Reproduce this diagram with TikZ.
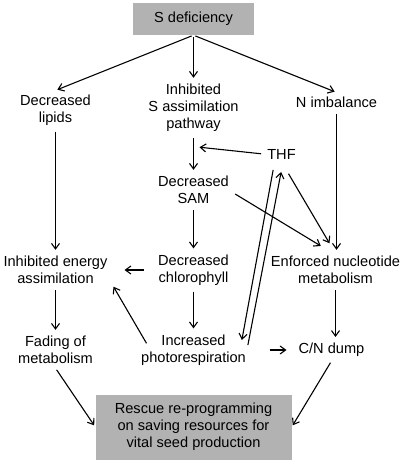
\documentclass[tikz,border=0pt]{standalone}
\usepackage{fontspec}
\setmainfont{Liberation Sans}
\usetikzlibrary{arrows.meta,calc}
\tikzstyle{basic} = [rectangle, align=center, inner sep=4pt, font=\fontsize{14.6}{17.2}\selectfont]
\tikzstyle{greybox} = [rectangle, align=center, fill=black!30, font=\fontsize{14.6}{17.2}\selectfont]

\begin{document}
\begin{tikzpicture}[node distance=80pt]
        \tikzset{myptr/.style={-{Straight Barb[length=5.5pt,width=8pt]}, line width=1.1pt, shorten >=2pt, shorten <=2pt}}
        \useasboundingbox (0,0) rectangle (400pt,-462pt);
        \node (sDef) [greybox, minimum width=121pt, minimum height=32pt] at (193.5pt,-19pt) {S deficiency};

        \node (inhS) [basic, below of=sDef, yshift=-9pt] {Inhibited\\S assimilation\\pathway};
        \node (decLip) [basic, left of=inhS, xshift=-58pt, yshift=-2pt] {Decreased\\lipids};
        \node (nImb) [basic, right of=inhS, xshift=63pt, yshift=6pt] {N imbalance};

        \node (decSAM) [basic, below of=inhS, yshift=-2pt] {Decreased\\SAM};
        \node (thf) [basic, right of=decSAM, xshift=8pt, yshift=36pt] {THF};

        \node (decChl) [basic, below of=decSAM] {Decreased\\chlorophyll};
        \node (inhE) [basic, left of=decChl, xshift=-58pt] {Inhibited energy\\assimilation};
        \node (enfN) [basic, right of=decChl, xshift=62pt] {Enforced nucleotide\\metabolism};

        \node (incPR) [basic, below of=decChl] {Increased\\photorespiration};
        \node (fade) [basic, left of=incPR, xshift=-58pt] {Fading of\\metabolism};
        \node (cnDump) [basic, right of=incPR, xshift=58pt] {C/N dump};

        \node (rescue) [greybox, below of=incPR, yshift=3pt, minimum width=196pt, minimum height=65pt] {Rescue re-programming\\on saving resources for\\vital seed production};

        \draw [myptr] (sDef.south) -- (decLip.north);
        \draw [myptr] (sDef.south) -- (inhS.north);
        \draw [myptr] (sDef.south) -- (nImb.north);

        \draw [myptr] (decLip.south) -- (inhE.north);
        \draw [myptr] (inhS.south) -- (decSAM.north);
        \draw [myptr] (thf.west) -- ($(inhS)+(4pt,-39pt)$);
        \draw [myptr] (nImb.south) -- (nImb.south |- enfN.north);

        \draw [myptr] ($(decSAM)+(40pt,-3pt)$) -- ($(enfN)+(-13pt,23pt)$);
        \draw [myptr] ($(thf)+(6pt,-18pt)$) -- ($(enfN)+(-5pt,25pt)$);
        \draw [myptr] ($(thf)+(-8pt,-14pt)$) -- ($(incPR)+(48pt,8pt)$);
        \draw [myptr] ($(incPR)+(54pt,3pt)$) -- ($(thf)+(0pt,-16pt)$);

        \draw [myptr] (decSAM.south) -- (decChl.north);
        \draw [myptr] ($(decChl)+(-48pt,0pt)$) -- ($(inhE)+(67pt,0pt)$);
        \draw [myptr] (decChl.south) -- (incPR.north);
        \draw [myptr] ($(incPR)+(-46pt,5pt)$) -- ($(inhE)+(57pt,-15pt)$);
        \draw [myptr] (inhE.south) -- (fade.north);
        \draw [myptr] (enfN.south) -- (enfN.south |- cnDump.north);
        \draw [myptr] ($(incPR)+(74pt,0pt)$) -- ($(cnDump)+(-43pt,0pt)$);

        \draw [myptr] (fade.south) -- (rescue.west);
        \draw [myptr] (cnDump.south) -- (rescue.east);
    \end{tikzpicture}
\end{document}
